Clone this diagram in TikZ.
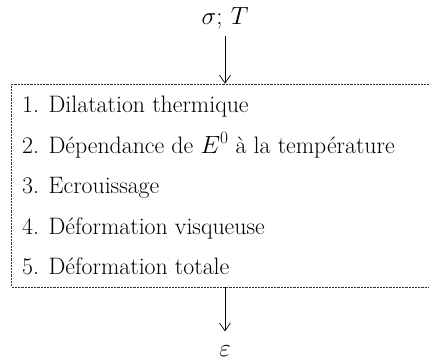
\documentclass[tikz,border=0pt]{standalone}
\usepackage{amsmath}
\usepackage{amssymb}
\usepackage{tikz}
\usepackage{xcolor}
\usetikzlibrary{arrows.meta}

\begin{document}
\begin{tikzpicture}[x=1pt, y=1pt,
    every node/.style={font=\fontsize{23.8}{28}\selectfont},
    item/.style={anchor=base west, inner sep=0pt},
    flow/.style={-{Straight Barb[length=8pt, width=11pt]}, line width=0.7pt}]
    % Fix the picture size (429 x 362); the box runs past the right edge
    \useasboundingbox (0, 0) rectangle (429, -362);

    % Input and output variables
    \node[inner sep=1pt] (input) at (225, -18) {$\sigma;\,T$};
    \node[inner sep=1pt] (output) at (225, -351) {$\varepsilon$};

    % Dashed box holding the model steps
    \node[draw=black!80, dash pattern=on 2.2pt off 1pt, line width=0.6pt, minimum width=419.3pt, minimum height=203pt, inner sep=0pt] (model) at (221.35, -185.5) {};

    % Steps of the model
    \node[item] (step1) at (22, -112) {1. Dilatation thermique};
    \node[item] (step2) at (22, -153) {2. Dépendance de $E^0$ à la température};
    \node[item] (step3) at (22, -193) {3. Ecrouissage};
    \node[item] (step4) at (22, -234) {4. Déformation visqueuse};
    \node[item] (step5) at (22, -274) {5. Déformation totale};

    % Arrows into and out of the box
    \draw[flow, shorten <=6pt] (input) -- (input |- model.north);
    \draw[flow, shorten >=13pt] (output |- model.south) -- (output.north);
\end{tikzpicture}
\end{document}
